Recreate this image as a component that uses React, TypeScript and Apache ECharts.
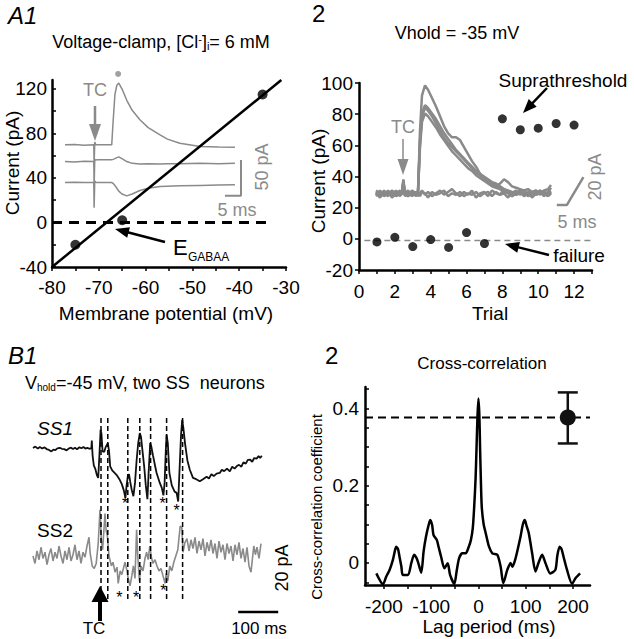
import React, { useEffect, useRef } from 'react';
import * as echarts from 'echarts';

const FONT = '"Liberation Sans", Arial, sans-serif';
const GRAY = '#8a8a8a';

// ---------- A1: I-V relation ----------
const A1_MEMBRANE_MV = [-75, -65, -35];
const A1_CURRENT_PA = [-20, 2, 115];
const A1_FIT_MV = [-80, -31];
const A1_FIT_PA = [-40, 128];
const A1_ZERO_MV = [-80, -33.5];
const A1_X_LABELS = [-80, -70, -60, -50, -40, -30];
const A1_X_TICKS = [-80, -75, -70, -65, -60, -55, -50, -45, -40, -35, -30];
const A1_Y_LABELS = [-40, 0, 40, 80, 120];
const A1_Y_TICKS = [-40, -20, 0, 20, 40, 60, 80, 100, 120];

// A1 inset traces (ms, pA relative to each trace's baseline)
const A1_TRACE_T = [0, 3, 6, 9, 9.1, 9.3, 9.6, 10, 12, 14.6, 15.0, 15.6, 16.2, 16.8, 17.8, 19.3, 21, 23.4, 26, 29.7, 32, 35.9, 42.2, 48, 53.1];
const A1_TRACE_TOP = [0, 0.5, -0.5, 0, -28, 4, 0, 0, 0.3, 0, 30, 70, 83, 86, 78, 62, 48, 35, 24, 14, 8, 2.3, -2.4, -3, -3.2];
const A1_TRACE_MID = [0, -0.5, 0.5, 0, -35, 3, 2, 2.5, 2.5, 2.5, 3, 4, 5.5, 6.5, 4, 0, -2.5, -3.5, -3, -3.5, -3, -3, -2.5, -3, -2.5];
const A1_TRACE_LOW = [0, 0.5, 0, 0, -35, 2, 0.5, 0, 0, 0, -1, -4, -8, -12, -16, -18.5, -16, -11, -8, -5.5, -5, -4.5, -4, -3.5, -3];
const A1_TRACE_OFFSETS = [52.4, 29.2, 0];
const A1_PEAK_DOT = [16.6, 151];
const A1_SCALE_MS = 5;
const A1_SCALE_PA = 50;

// ---------- A2: trials ----------
const A2_FAIL_TRIALS = [1, 2, 3, 4, 5, 6, 7];
const A2_FAIL_PA = [-2, 1, -5, -0.5, -5.5, 4, -3];
const A2_SUPRA_TRIALS = [8, 9, 10, 11, 12];
const A2_SUPRA_PA = [77, 70, 71, 74, 73];
const A2_FAIL_LEVEL = -1;
const A2_X_LABELS = [0, 2, 4, 6, 8, 10, 12];
const A2_X_TICKS = [0, 1, 2, 3, 4, 5, 6, 7, 8, 9, 10, 11, 12, 13];
const A2_Y_LABELS = [-20, 0, 20, 40, 60, 80, 100];

// A2 inset traces (ms, pA)
const A2_TRACE_T = [2, 4, 6, 8, 10, 12, 14, 15, 15.7, 16.4, 18, 20, 22, 23, 24, 25, 26.5, 28, 30, 32, 34, 36, 38, 40, 42, 44, 46, 48, 50, 52, 54, 56, 58, 60, 62, 64, 66, 68, 70, 72, 74, 76, 78, 80, 82, 84, 86, 88, 89.5];
const A2_TRACE_1 = [1, -2, 2, -1, 1, -2, 0, 1, 10, 0, -1, 2, 0, 1, 45, 70, 77, 74, 68, 62, 55, 48, 43, 40, 40, 38, 33, 28, 23, 19, 14, 10, 8, 6, 5, 7, 10, 8, 5, 4, 3, 2, 3, 1, 2, 0, 2, 3, 6];
const A2_TRACE_2 = [-1, 1, -2, 2, -1, 1, -2, 0, 9, -1, 1, -2, 1, 0, 38, 57, 63, 61, 57, 53, 48, 43, 39, 35, 31, 28, 25, 22, 19, 16, 14, 12, 10, 8, 7, 5, 3, 2, 1, -1, 1, -2, 0, 1, -1, 2, 0, -2, 1];
const A2_TRACE_3 = [2, 0, -1, 1, -3, 0, 2, -1, 8, 1, -2, 0, -1, 2, 36, 55, 61, 59, 55, 50, 45, 40, 36, 33, 30, 27, 24, 21, 18, 15, 13, 11, 9, 7, 6, 4, 2, 1, 0, 2, -1, 1, -2, 0, 2, -1, 1, 0, -1];
const A2_TRACE_4 = [-2, 1, 0, -2, 2, -1, 1, 0, 7, -2, 0, 1, -2, 1, 33, 51, 57, 55, 51, 47, 42, 38, 34, 30, 27, 24, 21, 18, 16, 13, 11, 9, 7, 5, 4, 3, 1, 0, -2, 0, 2, -1, 1, -2, 0, 1, -2, 1, 2];
const A2_TRACE_5 = [0, -3, 1, -1, 2, -2, 1, -1, 9, 0, 2, -1, 1, -2, 0, 2, -1, 1, -2, 0, 2, -1, 1, 3, 0, -2, 1, -1, 2, -3, 0, 1, -2, 2, 0, -1, 3, 1, -2, 0, 2, -1, 1, -3, 0, 2, -1, 1, 4];
const A2_TRACE_6 = [-1, 2, -2, 0, -1, 2, -1, 1, 6, -1, -2, 1, -1, 0, -2, 1, 0, -3, 1, -1, 0, 2, -2, 0, -1, 1, -2, 0, -1, 1, -2, 0, 1, -2, 1, -1, 0, -3, 1, -1, 0, 2, -2, 1, -1, 0, 1, -2, 0];
const A2_SCALE_MS = 5;
const A2_SCALE_PA = 20;

// ---------- B1: paired recordings ----------
const SS1_T = [0, 6, 12, 17, 23, 29, 34, 40, 46, 51, 56, 61, 67, 72, 78, 84, 89, 95, 100, 105, 110, 116, 121, 126, 131, 136, 141, 146, 147, 149, 152, 156, 160, 163, 166, 169, 171, 174, 178, 182, 187, 190, 193, 198, 204, 210, 216, 222, 227, 231, 234, 237, 240, 243, 247, 251, 255, 259, 263, 267, 270, 274, 278, 282, 286, 289, 293, 296, 300, 305, 309, 317, 322, 326, 329, 332, 334, 337, 341, 347, 354, 359, 363, 366, 370, 373, 376, 380, 386, 392, 400, 408, 417, 425, 434, 440, 446, 452, 459, 467, 472, 478, 485, 492, 498, 504, 509, 515, 521, 526, 532, 537, 543, 548, 553, 559, 564, 568, 572];
const SS1_PA = [0, 1.2, -0.5, 0.8, -0.3, 0.5, -0.8, -1.5, -2.7, -1.2, -1.6, -0.3, 0.2, -0.6, -0.9, -1.9, -0.4, 0.3, -0.8, 0.2, -0.9, 0.6, -0.2, 0.9, -0.4, 0.1, -0.6, 0, 6, -6, -14, -17, -22, -24, -6, 14.6, 12, -2.7, -3, 1, 4, -2, -14.7, -18, -20, -22, -25, -29, -34, -40, -30, -22.7, -21, -27, -34, -38.7, -28, -10, 4, 12, 9, -3, -15, -30, -41, -20, 4, 1, -6, -14, -20, -28, -32, -38, -28, -2, 10.6, 4, -20, -30, -35, -36, -43, -20, 10, 22.6, 16, 4, -10, -17.4, -24, -25, -26.7, -25, -23, -24.5, -21, -22.5, -20.5, -20, -17.5, -18.5, -16.5, -18.7, -15, -16.5, -14.7, -13.5, -15, -11.5, -12.5, -9.5, -9.4, -11, -8, -8.5, -6.5, -8, -6.2];
const SS2_T = [0, 5, 10, 15, 20, 25, 30, 35, 40, 45, 50, 55, 60, 65, 70, 75, 80, 85, 90, 95, 100, 105, 110, 115, 120, 125, 130, 135, 140, 143, 148, 153, 158, 163, 167.5, 171, 174, 180, 183, 186, 190, 196, 200, 205, 210, 213, 218, 222, 230, 235, 238, 242.5, 247, 251, 255, 259, 262, 266, 270, 275, 280, 284, 288, 292, 296, 300, 305, 310, 315, 320, 325, 330, 333, 337, 342, 347, 352, 357, 362, 368, 372, 375, 380, 385, 390, 395, 400, 405, 410, 415, 420, 425, 430, 435, 440, 445, 450, 455, 460, 465, 470, 475, 480, 485, 490, 495, 500, 505, 510, 515, 520, 525, 530, 535, 540, 545, 548, 552, 556, 560, 565, 570];
const SS2_PA = [0, -6, 4, -3, 7, -2, 3, -7, 1, 6, -4, 3, -2, 8, 0, -6, 4, -3, 7, -4, 1, 9, -3, 4, -6, 3, -1, 8, 15, 2, -8, -10, -6, 10, 37, 12, 5, 34, 20, 16, 0, -8, -5, -13, -9, -22, -12, -15, -5, -12, -18, -24, -16, -8, -18, 21, 0, -20, -8, -12, -2, 3, -3, 8, -1, -6, -3, -8, -12, -10, -16, -22, -14, -20, -8, -12, -5, 0, 5, 24, 23, 3, 11, 14, 4, 13, 6, 15, 2, 12, 5, 14, 0, 11, 4, 13, 2, 10, -2, 12, 3, 9, -3, 10, 2, 8, -4, 9, 1, 11, -2, 6, -5, 7, -8, -13, -4, 8, 1, 7, -2, 10];
const SS2_OFFSET = -86.7;
const B1_SYNC_T = [170, 187, 237, 267, 294, 334, 374];
const B1_SCALE_MS = 100;

// ---------- B2: cross-correlation ----------
const CC_LAG = [-216, -202, -195, -188, -181, -177, -174, -170, -167, -163, -160, -149, -142, -136, -132, -128, -121, -116, -111, -105, -102, -98, -95, -88, -84, -79, -72, -65, -60, -51, -46, -41, -34, -27, -21, -16, -12, -9, -6, -4, -2, 0, 2, 3.4, 5, 7, 11, 15.4, 22.4, 29.4, 40, 47, 52.6, 61, 68, 71.6, 78.5, 89, 94, 98, 102, 106.5, 113.6, 120.6, 127, 134.7, 141.7, 152, 162.7, 167, 171.8, 176, 180, 187.4, 198, 205, 215];
const CC_COEF = [-0.027, -0.055, -0.035, -0.018, 0.008, 0.03, 0.042, 0.035, 0.016, -0.01, -0.031, -0.031, 0.0, 0.021, 0.015, 0.003, -0.025, 0.03, 0.068, 0.1, 0.111, 0.098, 0.072, 0.059, 0.04, 0.016, -0.014, -0.001, -0.031, -0.054, -0.02, 0.012, 0.025, 0.025, 0.04, 0.059, 0.09, 0.145, 0.22, 0.30, 0.38, 0.425, 0.38, 0.30, 0.22, 0.145, 0.1, 0.077, 0.042, 0.025, 0.021, -0.01, -0.052, -0.018, 0, -0.01, 0.012, 0.068, 0.1, 0.111, 0.095, 0.077, 0.025, -0.022, 0.0, 0.021, 0, -0.027, -0.018, 0.02, 0.042, 0.035, 0.016, -0.018, -0.054, -0.04, -0.027];
const CC_MEAN_LAG = 189;
const CC_MEAN = 0.376;
const CC_LOW = 0.309;
const CC_HIGH = 0.441;
const CC_X_LABELS = [-200, -100, 0, 100, 200];
const CC_X_TICKS = [-200, -150, -100, -50, 0, 50, 100, 150, 200];
const CC_Y_LABELS = [0, 0.2, 0.4];
const CC_Y_TICKS = [-0.05, 0, 0.05, 0.1, 0.15, 0.2, 0.25, 0.3, 0.35, 0.4, 0.45];

const zip = (xs: number[], ys: number[], off = 0) => xs.map((x, i) => [x, ys[i] + off]);

function valueAxis(gridIndex: number, min: number, max: number, labels: number[], ticks: number[], margin: number, inside: boolean, fmt?: (v: number) => string) {
  return {
    type: 'value', gridIndex, min, max,
    axisLine: { show: true, onZero: false, lineStyle: { color: '#000', width: 2.5 } },
    axisTick: { show: true, inside, length: 4, customValues: ticks, lineStyle: { color: '#000', width: 1.5 } },
    axisLabel: { show: true, customValues: labels, margin, color: '#000', fontSize: 19, fontFamily: FONT, formatter: fmt },
    splitLine: { show: false },
  };
}
const hiddenAxis = (gridIndex: number, min: number, max: number) => ({ type: 'value', gridIndex, min, max, show: false, splitLine: { show: false } });

function txt(text: string, x: number, y: number, o: any = {}) {
  return {
    type: 'text', x, y, rotation: o.rot || 0, z: 100, silent: true,
    style: {
      text, fill: o.color || '#000', fontSize: o.size || 18, fontFamily: FONT,
      fontStyle: o.italic ? 'italic' : 'normal',
      align: o.align || 'center', verticalAlign: 'middle',
      textAlign: o.align || 'center', textVerticalAlign: 'middle',
      rich: o.rich,
    },
  };
}

function arrow(x1: number, y1: number, x2: number, y2: number, headLen: number, headW: number, lw: number, color: string) {
  const dx = x2 - x1, dy = y2 - y1, L = Math.hypot(dx, dy), ux = dx / L, uy = dy / L;
  const bx = x2 - ux * headLen, by = y2 - uy * headLen;
  const px = -uy, py = ux;
  return [
    { type: 'line', z: 100, silent: true, shape: { x1, y1, x2: bx + ux, y2: by + uy }, style: { stroke: color, lineWidth: lw } },
    { type: 'polygon', z: 100, silent: true, shape: { points: [[x2, y2], [bx + px * headW / 2, by + py * headW / 2], [bx - px * headW / 2, by - py * headW / 2]] }, style: { fill: color } },
  ];
}

function buildOption() {
  const lineS = (xi: number, data: any[], color: string, width: number, extra: any = {}) => ({
    type: 'line', xAxisIndex: xi, yAxisIndex: xi, data, showSymbol: false, symbol: 'none', silent: true,
    lineStyle: { color, width, ...(extra.lineStyle || {}) }, z: extra.z || 2, smooth: extra.smooth || false,
  });

  const a1Traces = [A1_TRACE_TOP, A1_TRACE_MID, A1_TRACE_LOW].map((tr, k) =>
    lineS(1, zip(A1_TRACE_T, tr, A1_TRACE_OFFSETS[k]), GRAY, 1.5));
  const a1ScaleX0 = 50, a1ScaleY0 = -18.5;
  const a2Traces = [A2_TRACE_1, A2_TRACE_2, A2_TRACE_3, A2_TRACE_4, A2_TRACE_5, A2_TRACE_6].map((tr) =>
    lineS(3, zip(A2_TRACE_T, tr), GRAY, 2.5));
  const a2ScaleX0 = 92.4, a2ScaleY0 = -8.4, a2ScaleSlant = 8.3;
  const b1ScaleX0 = 513, b1ScaleY = -131.8;
  const b1DashTop = 24.2, b1DashBottom = -122;

  const graphic: any[] = [
    // A1
    txt('A1', 8, 15, { size: 24, italic: true, align: 'left' }),
    txt('Voltage-clamp, [Cl{sup|-}]{sub|i}= 6 mM', 161, 42, {
      size: 18,
      rich: { sup: { fontSize: 11, fontFamily: FONT, verticalAlign: 'top', fill: '#000' }, sub: { fontSize: 11, fontFamily: FONT, verticalAlign: 'bottom', fill: '#000' } },
    }),
    txt('Current (pA)', 12, 163, { size: 19, rot: Math.PI / 2 }),
    txt('Membrane potential (mV)', 166, 313, { size: 19 }),
    txt('TC', 95, 90, { color: GRAY, size: 18 }),
    ...arrow(95, 106, 95, 141, 17, 12, 2.5, GRAY),
    txt('50 pA', 262, 167, { color: GRAY, size: 18, rot: Math.PI / 2 }),
    txt('5 ms', 237, 210, { color: GRAY, size: 18 }),
    txt('E', 173, 247, { size: 22, align: 'left' }),
    txt('GABAA', 188, 257, { size: 12, align: 'left' }),
    ...arrow(165, 242, 115, 229, 14, 11, 2.5, '#000'),
    // A2
    txt('2', 312, 13, { size: 24, align: 'left' }),
    txt('Vhold = -35 mV', 457, 33, { size: 18 }),
    txt('Current (pA)', 318, 181, { size: 19, rot: Math.PI / 2 }),
    txt('Trial', 490, 313, { size: 19 }),
    txt('TC', 403, 127, { color: GRAY, size: 18 }),
    ...arrow(403, 139, 403, 175, 16, 11, 1.5, GRAY),
    txt('20 pA', 595, 177, { color: GRAY, size: 18, rot: Math.PI / 2 }),
    txt('5 ms', 577, 222, { color: GRAY, size: 18 }),
    txt('Suprathreshold', 563, 80, { size: 19 }),
    ...arrow(547, 88, 523, 113, 14, 11, 2.5, '#000'),
    txt('failure', 579, 255, { size: 19 }),
    ...arrow(549, 255, 505, 244, 14, 11, 2.5, '#000'),
    // B1
    txt('B1', 8, 355, { size: 24, italic: true, align: 'left' }),
    txt('V{sub|hold}=-45 mV, two SS  neurons', 25, 383, {
      size: 18, align: 'left',
      rich: { sub: { fontSize: 10, fontFamily: FONT, verticalAlign: 'bottom', fill: '#000' } },
    }),
    txt('SS1', 55, 428, { size: 19, italic: true }),
    txt('SS2', 55, 530, { size: 19 }),
    txt('*', 125, 503, { size: 16 }),
    txt('*', 162.7, 503, { size: 16 }),
    txt('*', 176.7, 510, { size: 16 }),
    txt('*', 119.3, 597, { size: 16 }),
    txt('*', 136, 597, { size: 16 }),
    txt('*', 163.3, 590, { size: 16 }),
    ...arrow(100, 621, 100, 586, 16, 17, 4, '#000'),
    txt('TC', 94, 628, { size: 17 }),
    txt('100 ms', 259, 628, { size: 17 }),
    txt('20 pA', 282, 568, { size: 18, rot: Math.PI / 2 }),
    // B2
    txt('2', 325, 355, { size: 24, align: 'left' }),
    txt('Cross-correlation', 482, 363, { size: 17 }),
    txt('Cross-correlation coefficient', 316, 507, { size: 15, rot: Math.PI / 2 }),
    txt('Lag period (ms)', 489, 626, { size: 19 }),
  ];

  return {
    animation: false,
    backgroundColor: '#fff',
    textStyle: { fontFamily: FONT },
    grid: [
      { left: 52, top: 80, width: 234, height: 187 },
      { left: 65, top: 60, width: 176, height: 170 },
      { left: 359, top: 83, width: 233, height: 187 },
      { left: 372, top: 80, width: 212, height: 130 },
      { left: 33, top: 400, width: 248, height: 240 },
      { left: 365, top: 387, width: 225, height: 198 },
    ],
    xAxis: [
      valueAxis(0, -80, -30, A1_X_LABELS, A1_X_TICKS, 11, false),
      hiddenAxis(1, 0, 55),
      valueAxis(2, 0, 13, A2_X_LABELS, A2_X_TICKS, 12, false),
      hiddenAxis(3, 0, 106),
      hiddenAxis(4, 0, 620),
      valueAxis(5, -240, 236, CC_X_LABELS, CC_X_TICKS, 12, false),
    ],
    yAxis: [
      valueAxis(0, -40, 128, A1_Y_LABELS, A1_Y_TICKS, 5, true),
      hiddenAxis(1, -66, 170.4),
      valueAxis(2, -20, 100, A2_Y_LABELS, A2_Y_LABELS, 6, false),
      hiddenAxis(3, -11.9, 80.9),
      hiddenAxis(4, -153.4, 38.6),
      valueAxis(5, -0.057, 0.455, CC_Y_LABELS, CC_Y_TICKS, 6, true, (v: number) => (v === 0 ? '0' : v.toFixed(1))),
    ],
    series: [
      // A1
      lineS(0, [[A1_ZERO_MV[0], 0], [A1_ZERO_MV[1], 0]], '#000', 3, { lineStyle: { type: [10, 7] } }),
      ...a1Traces,
      lineS(1, [[a1ScaleX0, a1ScaleY0], [a1ScaleX0 + A1_SCALE_MS, a1ScaleY0], [a1ScaleX0 + A1_SCALE_MS, a1ScaleY0 + A1_SCALE_PA]], GRAY, 2),
      { type: 'scatter', xAxisIndex: 1, yAxisIndex: 1, data: [A1_PEAK_DOT], symbolSize: 6, itemStyle: { color: GRAY }, silent: true },
      lineS(0, zip(A1_FIT_MV, A1_FIT_PA), '#000', 2.5, { z: 5 }),
      { type: 'scatter', xAxisIndex: 0, yAxisIndex: 0, data: zip(A1_MEMBRANE_MV, A1_CURRENT_PA), symbolSize: 10, itemStyle: { color: '#000' }, z: 6, silent: true },
      // A2
      lineS(2, [[0.3, A2_FAIL_LEVEL], [13, A2_FAIL_LEVEL]], GRAY, 1.5, { lineStyle: { type: [6, 4] } }),
      ...a2Traces,
      lineS(3, [[a2ScaleX0, a2ScaleY0], [a2ScaleX0 + A2_SCALE_MS, a2ScaleY0], [a2ScaleX0 + A2_SCALE_MS + a2ScaleSlant, a2ScaleY0 + A2_SCALE_PA]], GRAY, 2.5),
      { type: 'scatter', xAxisIndex: 2, yAxisIndex: 2, data: zip(A2_FAIL_TRIALS, A2_FAIL_PA), symbolSize: 9, itemStyle: { color: '#000' }, z: 6, silent: true },
      { type: 'scatter', xAxisIndex: 2, yAxisIndex: 2, data: zip(A2_SUPRA_TRIALS, A2_SUPRA_PA), symbolSize: 9, itemStyle: { color: '#000' }, z: 6, silent: true },
      // B1
      lineS(4, zip(SS2_T, SS2_PA, SS2_OFFSET), GRAY, 1.6),
      lineS(4, zip(SS1_T, SS1_PA), '#111', 1.8, { z: 3 }),
      {
        type: 'custom', xAxisIndex: 4, yAxisIndex: 4, silent: true, z: 4,
        data: B1_SYNC_T.map((t) => [t, 0]),
        renderItem: (_p: any, api: any) => {
          const top = api.coord([api.value(0), b1DashTop]);
          const bot = api.coord([api.value(0), b1DashBottom]);
          return { type: 'line', shape: { x1: top[0], y1: top[1], x2: bot[0], y2: bot[1] }, style: { stroke: '#000', lineWidth: 1.5, lineDash: [5, 3] } };
        },
      },
      lineS(4, [[b1ScaleX0, b1ScaleY], [b1ScaleX0 + B1_SCALE_MS, b1ScaleY]], '#000', 2.5),
      // B2
      lineS(5, [[-240, CC_MEAN], [236, CC_MEAN]], '#000', 2, { lineStyle: { type: [8, 5] } }),
      lineS(5, zip(CC_LAG, CC_COEF), '#000', 2.5, { z: 4, smooth: 0.25 }),
      {
        type: 'custom', xAxisIndex: 5, yAxisIndex: 5, silent: true, z: 6,
        data: [[CC_MEAN_LAG, CC_MEAN, CC_LOW, CC_HIGH]],
        encode: { x: 0, y: [1, 2, 3] },
        renderItem: (_p: any, api: any) => {
          const x = api.value(0);
          const pm = api.coord([x, api.value(1)]);
          const pl = api.coord([x, api.value(2)]);
          const ph = api.coord([x, api.value(3)]);
          const st = { stroke: '#111', lineWidth: 2.5 };
          return {
            type: 'group',
            children: [
              { type: 'line', shape: { x1: pl[0], y1: pl[1], x2: ph[0], y2: ph[1] }, style: st },
              { type: 'line', shape: { x1: pl[0] - 10, y1: pl[1], x2: pl[0] + 10, y2: pl[1] }, style: st },
              { type: 'line', shape: { x1: ph[0] - 10, y1: ph[1], x2: ph[0] + 10, y2: ph[1] }, style: st },
              { type: 'circle', shape: { cx: pm[0], cy: pm[1], r: 8 }, style: { fill: '#111' } },
            ],
          };
        },
      },
    ],
    graphic,
  };
}

export default function App() {
  const ref = useRef<HTMLDivElement>(null);
  useEffect(() => {
    document.body.style.margin = '0';
    const chart = echarts.init(ref.current!, null, { renderer: 'svg' });
    chart.setOption(buildOption() as any);
    return () => chart.dispose();
  }, []);
  return <div ref={ref} style={{ position: 'absolute', left: 0, top: 0, width: 634, height: 639, background: '#fff' }} />;
}
